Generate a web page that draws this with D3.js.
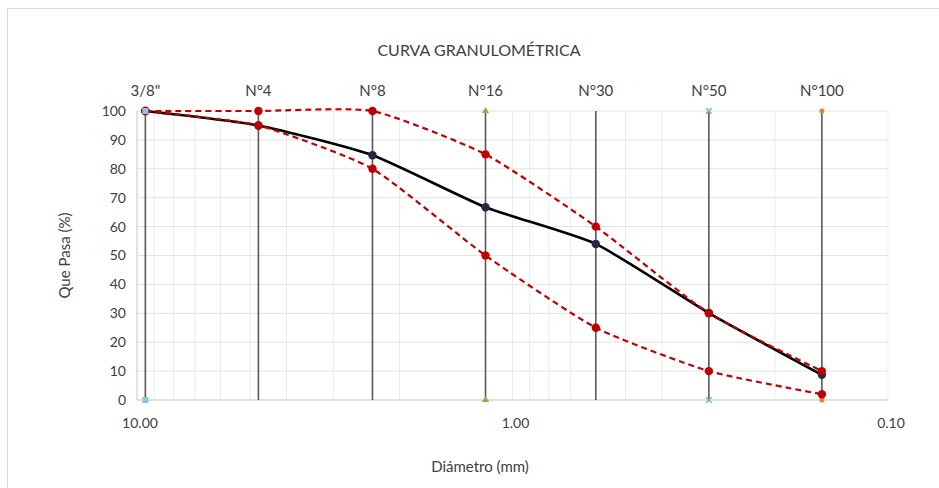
<!DOCTYPE html>
<html lang="es">
<head>
<meta charset="UTF-8">
<title>Curva Granulométrica</title>
<script src="https://d3js.org/d3.v7.min.js"></script>
<style>
  body { margin: 0; background: #fff; font-family: Lato, "Open Sans", sans-serif; }
  svg text { fill: #404040; }
</style>
</head>
<body>
<div id="chart"></div>
<script>
  // sieve openings (mm) and names
  const sieves = ["3/8\"", "N°4", "N°8", "N°16", "N°30", "N°50", "N°100"];
  const diam = [9.5, 4.75, 2.36, 1.18, 0.6, 0.3, 0.15];
  // % passing
  const sample = [100, 95, 84.7, 66.7, 54, 30.1, 8.7];
  const upperLim = [100, 100, 100, 85, 60, 30, 10];
  const lowerLim = [100, 95, 80, 50, 25, 10, 2];
  const yTicks = [0, 10, 20, 30, 40, 50, 60, 70, 80, 90, 100];
  const xTicks = [10, 1, 0.1];

  const W = 939, H = 488;
  const m = { left: 137, right: 51, top: 111, bottom: 88 };

  const svg = d3.select("#chart").append("svg")
    .attr("width", W).attr("height", H);

  // outer frame
  svg.append("rect")
    .attr("x", 7.5).attr("y", 8.5)
    .attr("width", W).attr("height", H)
    .attr("fill", "none").attr("stroke", "#d9d9d9");

  const x = d3.scaleLog().domain([10, 0.1]).range([m.left, W - m.right]);
  const y = d3.scaleLinear().domain([0, 100]).range([H - m.bottom, m.top]);

  const g = svg.append("g");

  // minor log gridlines
  const minor = [];
  [1, 0.1].forEach(dec => { for (let k = 1; k <= 10; k++) minor.push(k * dec); });
  g.selectAll(".vg").data(minor).join("line")
    .attr("x1", d => x(d)).attr("x2", d => x(d))
    .attr("y1", y(0)).attr("y2", y(100))
    .attr("stroke", "#ececec").attr("stroke-width", 1);

  g.selectAll(".hg").data(yTicks).join("line")
    .attr("x1", x(10)).attr("x2", x(0.1))
    .attr("y1", d => y(d)).attr("y2", d => y(d))
    .attr("stroke", "#e3e3e3").attr("stroke-width", 1);

  // axes lines
  g.append("line").attr("x1", x(10)).attr("x2", x(0.1))
    .attr("y1", y(0)).attr("y2", y(0)).attr("stroke", "#d0d0d0");
  g.append("line").attr("x1", x(10)).attr("x2", x(10))
    .attr("y1", y(0)).attr("y2", y(100)).attr("stroke", "#d0d0d0");

  // y tick labels
  g.selectAll(".yl").data(yTicks).join("text")
    .attr("x", x(10) - 11).attr("y", d => y(d)).attr("dy", "0.35em")
    .attr("text-anchor", "end").attr("font-size", 14)
    .text(d => d);

  // x tick labels
  g.selectAll(".xl").data(xTicks).join("text")
    .attr("x", d => x(d) + 3).attr("y", y(0) + 28)
    .attr("text-anchor", "middle").attr("font-size", 14)
    .text(d => d.toFixed(2));

  // sieve vertical lines
  g.selectAll(".sv").data(diam).join("line")
    .attr("x1", d => x(d)).attr("x2", d => x(d))
    .attr("y1", y(0)).attr("y2", y(100))
    .attr("stroke", "#595959").attr("stroke-width", 1.6);

  // sieve end markers
  const endMk = svg.append("g");
  [0, 100].forEach(v => {
    endMk.append("rect").attr("x", x(diam[0]) - 3).attr("y", y(v) - 3)
      .attr("width", 6).attr("height", 6).attr("fill", "#8fc3dc");
    endMk.append("path").attr("d", d3.symbol(d3.symbolTriangle, 22)())
      .attr("transform", `translate(${x(diam[3])},${y(v)})`).attr("fill", "#8fae4c");
    endMk.append("path").attr("d", d3.symbol(d3.symbolTimes, 22)())
      .attr("transform", `translate(${x(diam[5])},${y(v)})`)
      .attr("stroke", "#6ab4cf").attr("stroke-width", 1.5);
    endMk.append("circle").attr("cx", x(diam[6])).attr("cy", y(v)).attr("r", 2.5)
      .attr("fill", "#ed7d31");
  });

  // sieve labels on top
  g.selectAll(".sl").data(sieves).join("text")
    .attr("x", (d, i) => x(diam[i])).attr("y", 96)
    .attr("text-anchor", "middle").attr("font-size", 15)
    .text(d => d);

  const line = d3.line()
    .x(d => x(d[0])).y(d => y(d[1]))
    .curve(d3.curveCardinal.tension(0.45));

  function series(vals, color, dash, width, mk) {
    const pts = diam.map((d, i) => [d, vals[i]]);
    svg.append("path").datum(pts)
      .attr("fill", "none").attr("stroke", color)
      .attr("stroke-width", width)
      .attr("stroke-dasharray", dash)
      .attr("d", line);
    svg.append("g").selectAll("circle").data(pts).join("circle")
      .attr("cx", d => x(d[0])).attr("cy", d => y(d[1]))
      .attr("r", 4.2).attr("fill", mk);
  }

  series(sample, "#000000", null, 2.6, "#1f2a44");
  series(upperLim, "#c00000", "6,4", 2.2, "#c00000");
  series(lowerLim, "#c00000", "6,4", 2.2, "#c00000");

  // first point marker on top (light blue)
  svg.append("rect").attr("x", x(diam[0]) - 3).attr("y", y(100) - 3)
    .attr("width", 6).attr("height", 6).attr("fill", "#8fc3dc");

  // title
  svg.append("text").attr("x", 479).attr("y", 56)
    .attr("text-anchor", "middle").attr("font-size", 16)
    .text("CURVA GRANULOMÉTRICA");

  // axis titles
  svg.append("text").attr("x", 480).attr("y", 472)
    .attr("text-anchor", "middle").attr("font-size", 15)
    .text("Diámetro (mm)");
  svg.append("text")
    .attr("transform", `translate(70,${(y(0) + y(100)) / 2}) rotate(-90)`)
    .attr("text-anchor", "middle").attr("font-size", 15)
    .text("Que Pasa (%)");
</script>
</body>
</html>
